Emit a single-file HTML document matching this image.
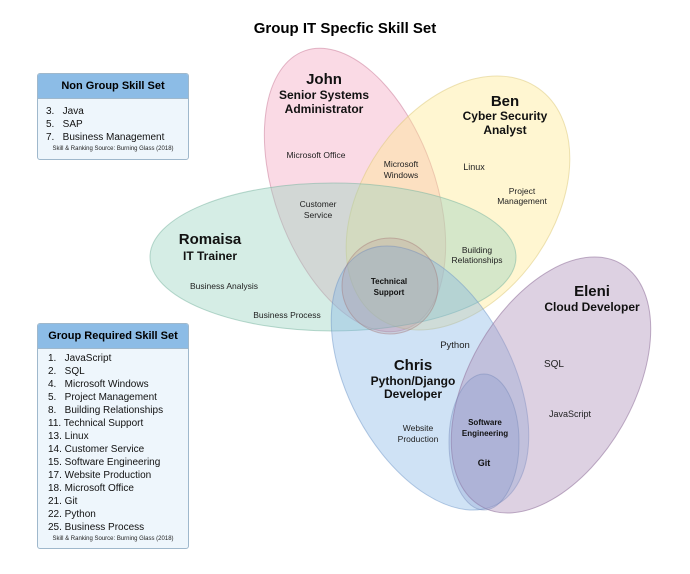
<!DOCTYPE html>
<html><head><meta charset="utf-8"><style>
body{margin:0;background:#fff;width:690px;height:574px;overflow:hidden;font-family:"Liberation Sans",sans-serif;position:relative}
.box{position:absolute;left:37px;width:150px;border:1px solid #9fb8cc;background:#eef6fc;border-radius:3px;overflow:hidden}
.box .h{background:#8cbce6;height:24px;line-height:24px;text-align:center;font-weight:bold;font-size:11px;border-bottom:1px solid #9fb8cc}
.box .l{font-size:10px;line-height:13px;padding:4px 0 0 8px;color:#111}
.box .s{font-size:6px;text-align:center;padding:2px 0 4px;color:#222}
</style></head><body>
<svg width="690" height="574" style="position:absolute;left:0;top:0" font-family="Liberation Sans, sans-serif" text-anchor="middle">
<text x="345" y="33" font-size="15" font-weight="bold">Group IT Specfic Skill Set</text>
<ellipse cx="355" cy="190" rx="80" ry="148" transform="rotate(-20 355 190)" fill="rgba(240,150,180,0.35)" stroke="rgba(200,120,150,0.5)"/>
<ellipse cx="458" cy="203" rx="95" ry="140" transform="rotate(35 458 203)" fill="rgba(255,232,140,0.4)" stroke="rgba(220,200,120,0.5)"/>
<ellipse cx="333" cy="257" rx="183" ry="74" fill="rgba(150,210,190,0.4)" stroke="rgba(120,180,160,0.5)"/>
<ellipse cx="430" cy="378" rx="82" ry="143" transform="rotate(-28 430 378)" fill="rgba(130,180,230,0.38)" stroke="rgba(110,150,200,0.5)"/>
<ellipse cx="551" cy="385" rx="82" ry="140" transform="rotate(30 551 385)" fill="rgba(175,145,185,0.42)" stroke="rgba(150,120,160,0.6)"/>
<ellipse cx="484" cy="442" rx="35" ry="68" fill="rgba(120,140,200,0.25)" stroke="rgba(110,130,180,0.4)"/>
<circle cx="390" cy="286" r="48" fill="rgba(180,120,120,0.18)" stroke="rgba(160,110,110,0.4)"/>
<g font-weight="bold" fill="#111">
<text x="324" y="84" font-size="15">John</text>
<text x="324" y="99" font-size="12">Senior Systems</text>
<text x="324" y="113" font-size="12">Administrator</text>
<text x="505" y="106" font-size="15">Ben</text>
<text x="505" y="120" font-size="12">Cyber Security</text>
<text x="505" y="134" font-size="12">Analyst</text>
<text x="210" y="244" font-size="15">Romaisa</text>
<text x="210" y="260" font-size="12">IT Trainer</text>
<text x="413" y="370" font-size="15">Chris</text>
<text x="413" y="385" font-size="12">Python/Django</text>
<text x="413" y="398" font-size="12">Developer</text>
<text x="592" y="296" font-size="15">Eleni</text>
<text x="592" y="311" font-size="12">Cloud Developer</text>
<text x="389" y="284" font-size="8">Technical</text>
<text x="389" y="295" font-size="8">Support</text>
<text x="485" y="425" font-size="8">Software</text>
<text x="485" y="436" font-size="8">Engineering</text>
<text x="484" y="466" font-size="9">Git</text>
</g>
<g font-size="8.5" fill="#222">
<text x="316" y="158">Microsoft Office</text>
<text x="401" y="167">Microsoft</text><text x="401" y="178">Windows</text>
<text x="474" y="170" font-size="9">Linux</text>
<text x="522" y="194">Project</text><text x="522" y="204">Management</text>
<text x="318" y="207">Customer</text><text x="318" y="218">Service</text>
<text x="477" y="253">Building</text><text x="477" y="263">Relationships</text>
<text x="224" y="289">Business Analysis</text>
<text x="287" y="318">Business Process</text>
<text x="455" y="348" font-size="9.5">Python</text>
<text x="554" y="367" font-size="10">SQL</text>
<text x="570" y="417" font-size="9">JavaScript</text>
<text x="418" y="431">Website</text><text x="418" y="442">Production</text>
</g>
</svg>
<div class="box" style="top:73px;height:85px"><div class="h">Non Group Skill Set</div>
<div class="l" style="padding-top:6px">3.&nbsp;&nbsp;&nbsp;Java<br>5.&nbsp;&nbsp;&nbsp;SAP<br>7.&nbsp;&nbsp;&nbsp;Business Management</div>
<div class="s">Skill &amp; Ranking Source: Burning Glass (2018)</div></div>
<div class="box" style="top:323px;height:224px"><div class="h">Group Required Skill Set</div>
<div class="l" style="padding-left:10px;padding-top:3px">1.&nbsp;&nbsp;&nbsp;JavaScript<br>2.&nbsp;&nbsp;&nbsp;SQL<br>4.&nbsp;&nbsp;&nbsp;Microsoft Windows<br>5.&nbsp;&nbsp;&nbsp;Project Management<br>8.&nbsp;&nbsp;&nbsp;Building Relationships<br>11. Technical Support<br>13. Linux<br>14. Customer Service<br>15. Software Engineering<br>17. Website Production<br>18. Microsoft Office<br>21. Git<br>22. Python<br>25. Business Process</div>
<div class="s">Skill &amp; Ranking Source: Burning Glass (2018)</div></div>
</body></html>
